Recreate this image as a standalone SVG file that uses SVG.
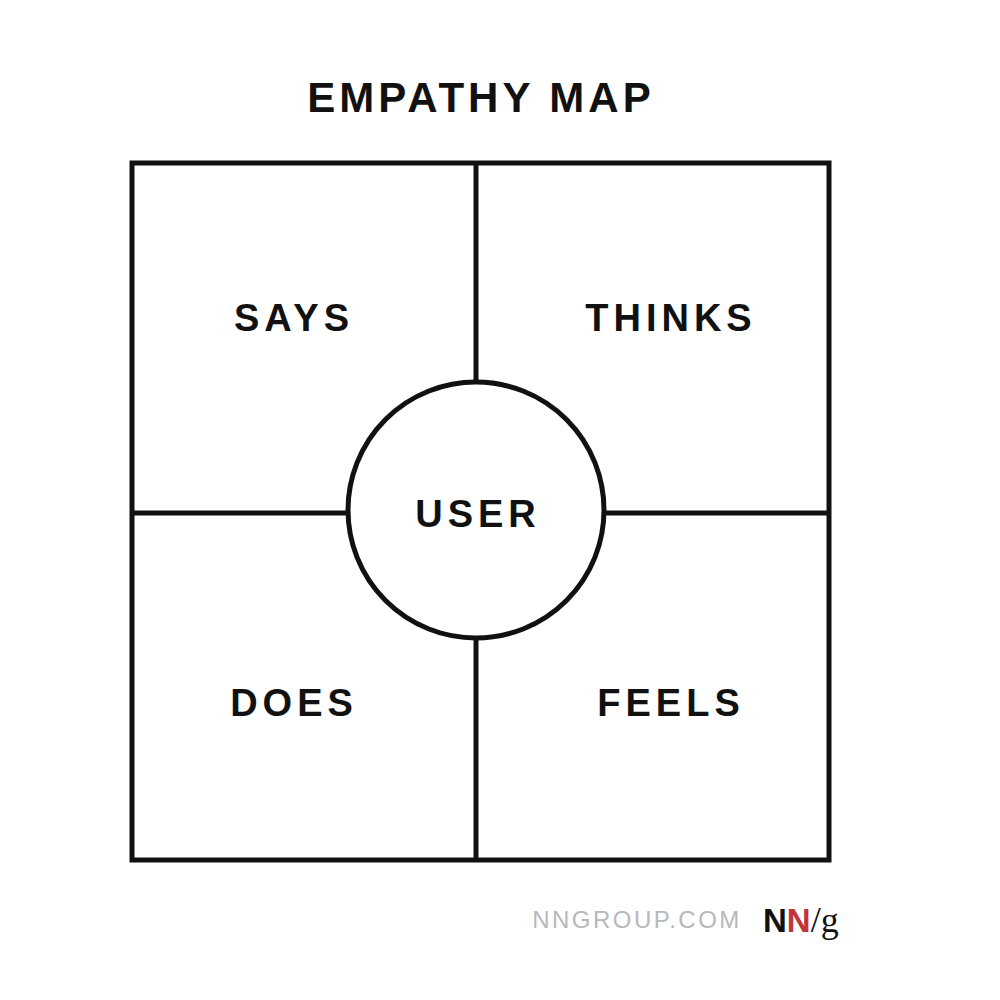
<svg xmlns="http://www.w3.org/2000/svg" width="1000" height="1000" viewBox="0 0 1000 1000">
<style>
.l{font-family:"Liberation Sans",Arial,sans-serif;font-weight:bold;font-size:38px;letter-spacing:5px;fill:#111;text-anchor:middle}
.ln{stroke:#111;stroke-width:5;fill:none}
</style>
<rect width="1000" height="1000" fill="#fff"/>
<text x="481" y="112" class="l" style="font-size:42px;letter-spacing:4px">EMPATHY MAP</text>
<g id="connectors">
<rect x="132" y="163" width="697" height="697" class="ln"/>
<line x1="476" y1="163" x2="476" y2="383" class="ln"/>
<line x1="476" y1="637" x2="476" y2="860" class="ln"/>
<line x1="132" y1="513" x2="348" y2="513" class="ln"/>
<line x1="604" y1="513" x2="829" y2="513" class="ln"/>
</g>
<g id="says"><text x="294" y="331" class="l">SAYS</text></g>
<g id="thinks"><text x="671" y="331" class="l">THINKS</text></g>
<g id="does"><text x="294" y="716" class="l">DOES</text></g>
<g id="feels"><text x="671" y="716" class="l">FEELS</text></g>
<g id="user"><circle cx="476" cy="510" r="128" class="ln" fill="#fff"/><text x="478" y="527" class="l">USER</text></g>
<g id="footer">
<text x="637" y="928" font-family="Liberation Sans,Arial,sans-serif" font-size="24" letter-spacing="2.5" fill="#b8b8bc" text-anchor="middle">NNGROUP.COM</text>
<text x="763" y="932" font-family="Liberation Sans,Arial,sans-serif" font-weight="bold" font-size="33" fill="#111">N<tspan fill="#c0343a">N</tspan><tspan font-family="Liberation Serif,serif" font-weight="normal" font-size="36">/g</tspan></text>
</g>
</svg>
